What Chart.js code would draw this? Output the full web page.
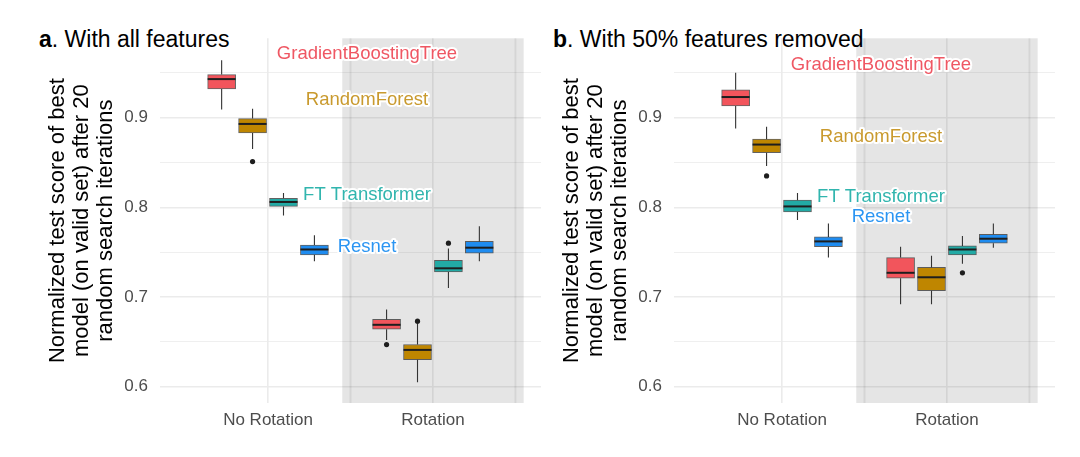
<!DOCTYPE html>
<html>
<head>
<meta charset="utf-8">
<script src="https://cdn.jsdelivr.net/npm/chart.js@4.4.1/dist/chart.umd.min.js"></script>
<style>
  body { margin: 0; background: #fff; width: 1080px; height: 457px; position: relative; overflow: hidden; font-family: 'Liberation Sans', Arial, sans-serif; }
  canvas { position: absolute; top: 0; }
  .ptitle { position: absolute; top: 28px; font-size: 23px; line-height: 23px; color: #000; white-space: nowrap; }
</style>
</head>
<body>
<div class="ptitle" style="left:39px"><b>a</b>. With all features</div>
<div class="ptitle" style="left:553px"><b>b</b>. With 50% features removed</div>
<canvas id="chartAll" width="545" height="457" style="left:0"></canvas>
<canvas id="chartHalf" width="545" height="457" style="left:514px"></canvas>
<script>
// categories and models
const categories = ['No Rotation', 'Rotation'];
const models = ['GradientBoostingTree', 'RandomForest', 'FT Transformer', 'Resnet'];
const boxColors = ['#f2555c', '#bf8600', '#22aaa5', '#1f8cf0'];
const textColors = ['#ef5763', '#c99a2e', '#31b5ae', '#2b95f2'];
const yTitle = ['Normalized test score of best', 'model (on valid set) after 20', 'random search iterations'];

// panel a: with all features  -> [model][category]
const allLow  = [[0.909, 0.652], [0.865, 0.605], [0.791, 0.710], [0.740, 0.740]];
const allQ1   = [[0.932, 0.664], [0.883, 0.630], [0.801, 0.728], [0.747, 0.749]];
const allMed  = [[0.943, 0.669], [0.893, 0.641], [0.806, 0.732], [0.753, 0.755]];
const allQ3   = [[0.948, 0.675], [0.899, 0.647], [0.810, 0.741], [0.758, 0.762]];
const allHigh = [[0.964, 0.686], [0.910, 0.671], [0.816, 0.754], [0.769, 0.779]];
const allOut  = [[[], [0.647]], [[0.851], [0.673]], [[], [0.760]], [[], []]];
const allLabelY = [0.971, 0.920, 0.814, 0.756];

// panel b: with 50% features removed
const halfLow  = [[0.888, 0.692], [0.846, 0.692], [0.786, 0.737], [0.744, 0.755]];
const halfQ1   = [[0.913, 0.721], [0.861, 0.707], [0.795, 0.747], [0.756, 0.760]];
const halfMed  = [[0.923, 0.727], [0.870, 0.722], [0.801, 0.753], [0.762, 0.765]];
const halfQ3   = [[0.931, 0.744], [0.876, 0.733], [0.808, 0.757], [0.767, 0.770]];
const halfHigh = [[0.950, 0.756], [0.890, 0.746], [0.816, 0.768], [0.782, 0.782]];
const halfOut  = [[[], []], [[0.835], []], [[], [0.727]], [[], []]];
const halfLabelY = [0.959, 0.879, 0.812, 0.789];

const yTicksMin = 0.5818, yTicksMax = 0.9885;
const FONT = "'Liberation Sans', Arial, sans-serif";
Chart.defaults.font.family = FONT;

function dodge(m) { return (m - 1.5) * 0.1875; }
function isMajor(v) { return Math.abs(v * 10 - Math.round(v * 10)) < 1e-6; }

const boxDecor = {
  id: 'boxDecor',
  beforeDatasetsDraw(chart, args, opts) {
    const { ctx, chartArea: a, scales: { x, y } } = chart;
    ctx.save();
    // shaded "Rotation" region
    const x0 = x.getPixelForValue(1.45), x1 = x.getPixelForValue(2.55);
    ctx.fillStyle = 'rgba(0,0,0,0.1)';
    ctx.fillRect(x0, a.top, x1 - x0, a.bottom - a.top);
    ctx.strokeStyle = 'rgba(0,0,0,0.07)';
    ctx.lineWidth = 2;
    [1.5, 2.5].forEach(v => {
      const px = x.getPixelForValue(v);
      ctx.beginPath(); ctx.moveTo(px, a.top); ctx.lineTo(px, a.bottom); ctx.stroke();
    });
    // whiskers
    ctx.strokeStyle = '#333';
    ctx.lineWidth = 1.1;
    opts.q1.forEach((row, m) => row.forEach((q1, c) => {
      const px = x.getPixelForValue(c + 1 + dodge(m));
      ctx.beginPath();
      ctx.moveTo(px, y.getPixelForValue(opts.low[m][c]));
      ctx.lineTo(px, y.getPixelForValue(q1));
      ctx.moveTo(px, y.getPixelForValue(opts.q3[m][c]));
      ctx.lineTo(px, y.getPixelForValue(opts.high[m][c]));
      ctx.stroke();
    }));
    ctx.restore();
  },
  afterDatasetsDraw(chart, args, opts) {
    const { ctx, scales: { x, y } } = chart;
    ctx.save();
    // medians
    ctx.strokeStyle = '#1e1e1e';
    ctx.lineWidth = 2;
    opts.med.forEach((row, m) => row.forEach((v, c) => {
      const bar = chart.getDatasetMeta(m).data[c];
      const py = y.getPixelForValue(v);
      ctx.beginPath();
      ctx.moveTo(bar.x - bar.width / 2, py);
      ctx.lineTo(bar.x + bar.width / 2, py);
      ctx.stroke();
    }));
    // model labels with white halo
    ctx.font = '18.5px ' + FONT;
    ctx.textAlign = 'center';
    ctx.textBaseline = 'middle';
    ctx.lineJoin = 'round';
    models.forEach((name, m) => {
      const px = x.getPixelForValue(1.6), py = y.getPixelForValue(opts.labelY[m]);
      ctx.strokeStyle = '#fff';
      ctx.lineWidth = 4;
      ctx.strokeText(name, px, py);
      ctx.fillStyle = textColors[m];
      ctx.fillText(name, px, py);
    });
    ctx.restore();
  }
};

function makePanel(id, low, q1, med, q3, high, out, labelY) {
  const datasets = models.map((name, m) => ({
    label: name,
    data: categories.map((_, c) => ({ x: c + 1 + dodge(m), y: [q1[m][c], q3[m][c]] })),
    backgroundColor: boxColors[m],
    borderColor: 'rgba(45,45,45,0.75)',
    borderWidth: 1,
    borderSkipped: false,
    barThickness: 28,
    grouped: false
  }));
  const outliers = [];
  out.forEach((row, m) => row.forEach((vals, c) => vals.forEach(v => {
    outliers.push({ x: c + 1 + dodge(m), y: v });
  })));
  datasets.push({
    type: 'scatter',
    label: 'outliers',
    data: outliers,
    pointRadius: 2.6,
    pointBackgroundColor: '#1e1e1e',
    pointBorderWidth: 0
  });

  return new Chart(document.getElementById(id).getContext('2d'), {
    type: 'bar',
    data: { datasets },
    options: {
      responsive: false,
      animation: false,
      layout: { padding: { left: 0, right: 4, top: 38.3, bottom: 0 } },
      plugins: {
        legend: { display: false },
        tooltip: { enabled: false },
        boxDecor: { low, q1, med, q3, high, labelY }
      },
      scales: {
        x: {
          type: 'linear',
          offset: false,
          min: 0.345,
          max: 2.655,
          afterBuildTicks: (s) => { s.ticks = categories.map((_, i) => ({ value: i + 1 })); },
          afterFit: (s) => { s.height = 54; },
          border: { display: false },
          grid: { color: '#ebebeb', lineWidth: 1.6, drawTicks: false, offset: false },
          ticks: {
            padding: 7,
            color: '#4d4d4d',
            font: { size: 17 },
            autoSkip: false,
            maxRotation: 0,
            callback: (v, i) => categories[i]
          }
        },
        y: {
          min: yTicksMin,
          max: yTicksMax,
          afterFit: (s) => { s.width = 160; },
          border: { display: false },
          grid: {
            color: '#ebebeb',
            lineWidth: (c) => (c.tick && isMajor(c.tick.value)) ? 1.6 : 0.8,
            drawTicks: false
          },
          ticks: {
            stepSize: 0.05,
            includeBounds: false,
            padding: 12,
            color: '#4d4d4d',
            font: { size: 17 },
            autoSkip: false,
            callback: (v) => isMajor(v) ? v.toFixed(1) : ''
          },
          title: {
            display: true,
            text: yTitle,
            color: '#000',
            font: { size: 22, lineHeight: 1.1 },
            padding: { top: 45.9, bottom: 0 }
          }
        }
      }
    },
    plugins: [boxDecor]
  });
}

makePanel('chartAll', allLow, allQ1, allMed, allQ3, allHigh, allOut, allLabelY);
makePanel('chartHalf', halfLow, halfQ1, halfMed, halfQ3, halfHigh, halfOut, halfLabelY);
</script>
</body>
</html>
